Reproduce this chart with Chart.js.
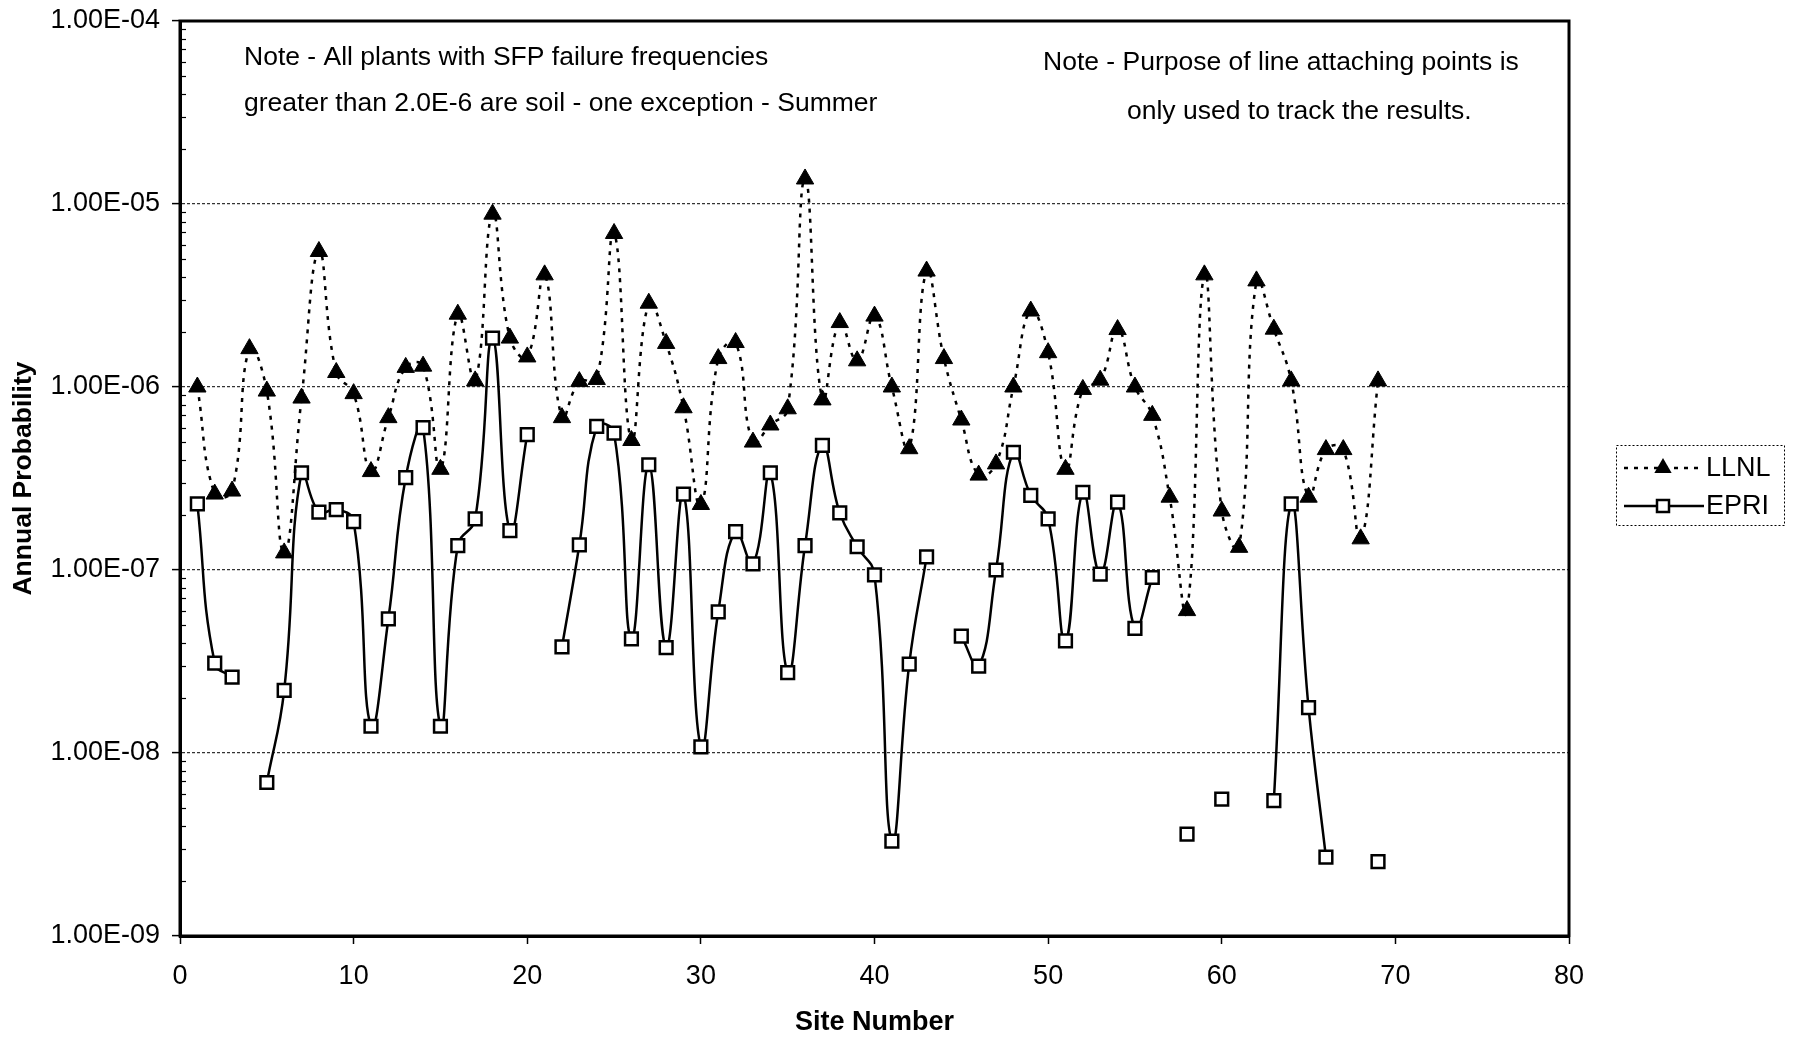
<!DOCTYPE html>
<html>
<head>
<meta charset="utf-8">
<script src="https://cdn.jsdelivr.net/npm/chart.js@4/dist/chart.umd.min.js"></script>
<style>
  html, body { margin: 0; padding: 0; background: #fff; }
  canvas { display: block; }
</style>
</head>
<body>
<canvas id="c" width="1797" height="1040"></canvas>
<script>
// ---------------- DATA ----------------
const sites = [1,2,3,4,5,6,7,8,9,10,11,12,13,14,15,16,17,18,19,20,
  21,22,23,24,25,26,27,28,29,30,31,32,33,34,35,36,37,38,39,40,
  41,42,43,44,45,46,47,48,49,50,51,52,53,54,55,56,57,58,59,60,
  61,62,63,64,65,66,67,68,69];

const llnl = [1.0e-6, 2.6e-7, 2.7e-7, 1.62e-6, 9.5e-7, 1.24e-7, 8.7e-7, 5.5e-6, 1.2e-6, 9.2e-7,
  3.45e-7, 6.8e-7, 1.28e-6, 1.3e-6, 3.55e-7, 2.5e-6, 1.08e-6, 8.8e-6, 1.85e-6, 1.46e-6,
  4.1e-6, 6.8e-7, 1.07e-6, 1.1e-6, 6.9e-6, 5.1e-7, 2.87e-6, 1.73e-6, 7.7e-7, 2.28e-7,
  1.43e-6, 1.75e-6, 5.0e-7, 6.2e-7, 7.6e-7, 1.37e-5, 8.5e-7, 2.25e-6, 1.39e-6, 2.44e-6,
  1.0e-6, 4.6e-7, 4.3e-6, 1.43e-6, 6.6e-7, 3.3e-7, 3.8e-7, 1.0e-6, 2.6e-6, 1.54e-6,
  3.55e-7, 9.7e-7, 1.09e-6, 2.06e-6, 1.0e-6, 7.0e-7, 2.5e-7, 6.0e-8, 4.1e-6, 2.1e-7,
  1.33e-7, 3.8e-6, 2.07e-6, 1.08e-6, 2.5e-7, 4.55e-7, 4.55e-7, 1.48e-7, 1.08e-6];

const epri = [2.3e-7, 3.1e-8, 2.6e-8, null, 6.9e-9, 2.2e-8, 3.4e-7, 2.07e-7, 2.14e-7, 1.84e-7,
  1.4e-8, 5.4e-8, 3.2e-7, 6.0e-7, 1.4e-8, 1.36e-7, 1.9e-7, 1.85e-6, 1.64e-7, 5.5e-7,
  null, 3.8e-8, 1.37e-7, 6.1e-7, 5.6e-7, 4.2e-8, 3.76e-7, 3.77e-8, 2.6e-7, 1.08e-8,
  5.9e-8, 1.62e-7, 1.08e-7, 3.4e-7, 2.75e-8, 1.36e-7, 4.8e-7, 2.05e-7, 1.34e-7, 9.4e-8,
  3.3e-9, 3.06e-8, 1.18e-7, null, 4.35e-8, 2.98e-8, 1.0e-7, 4.4e-7, 2.56e-7, 1.9e-7,
  4.1e-8, 2.66e-7, 9.5e-8, 2.35e-7, 4.8e-8, 9.1e-8, null, 3.6e-9, null, 5.6e-9,
  null, null, 5.5e-9, 2.3e-7, 1.77e-8, 2.7e-9, null, null, 2.55e-9];

const seriesNames = ['LLNL', 'EPRI'];
const xTicks = [0, 10, 20, 30, 40, 50, 60, 70, 80];
const yTickValues = [1e-9, 1e-8, 1e-7, 1e-6, 1e-5, 1e-4];
const yTickLabels = ['1.00E-09', '1.00E-08', '1.00E-07', '1.00E-06', '1.00E-05', '1.00E-04'];
const notesLeft = ['Note - All plants with SFP failure frequencies',
                   'greater than 2.0E-6 are soil - one exception - Summer'];
const notesRight = ['Note - Purpose of line attaching points is',
                    'only used to track the results.'];
const xTitle = 'Site Number';
const yTitle = 'Annual Probability';

// ---------------- STYLE ----------------
const FONT = "'Liberation Sans', Arial, Helvetica, sans-serif";
Chart.defaults.font.family = FONT;
Chart.defaults.font.size = 27;
Chart.defaults.color = '#000';

function isMajor(v) {
  const l = Math.log10(v);
  return Math.abs(l - Math.round(l)) < 1e-6;
}
function labelFor(v) {
  for (let i = 0; i < yTickValues.length; i++) {
    if (Math.abs(Math.log10(v) - Math.log10(yTickValues[i])) < 1e-6) return yTickLabels[i];
  }
  return '';
}

const whiteBg = {
  id: 'whiteBg',
  beforeDraw(chart) {
    const c = chart.ctx;
    c.save();
    c.fillStyle = '#fff';
    c.fillRect(0, 0, chart.width, chart.height);
    c.restore();
  }
};

const frame = {
  id: 'frame',
  afterDatasetsDraw(chart) {
    const {ctx, chartArea: a, scales} = chart;
    ctx.save();
    ctx.strokeStyle = '#000';
    ctx.lineWidth = 1.2;
    const ys = scales.y;
    for (let i = 0; i < yTickValues.length - 1; i++) {
      for (let k = 2; k <= 9; k++) {
        const v = yTickValues[i] * k;
        const py = Math.round(ys.getPixelForValue(v)) + 0.5;
        ctx.beginPath();
        ctx.moveTo(a.left, py);
        ctx.lineTo(a.left + 6, py);
        ctx.stroke();
      }
    }
    ctx.lineWidth = 3;
    ctx.strokeRect(a.left, a.top, a.right - a.left, a.bottom - a.top);
    ctx.restore();
  }
};

function drawTriangle(ctx, x, y, r) {
  ctx.beginPath();
  ctx.moveTo(x, y - r);
  ctx.lineTo(x + r * 0.866, y + r * 0.5);
  ctx.lineTo(x - r * 0.866, y + r * 0.5);
  ctx.closePath();
  ctx.fill();
}

const legendBox = {
  id: 'legendBox',
  afterDraw(chart) {
    const {ctx, chartArea: a} = chart;
    const left = a.right + 47, top = a.top + 424, w = 168, h = 80;
    ctx.save();
    ctx.strokeStyle = '#000';
    ctx.lineWidth = 1;
    ctx.setLineDash([2, 2]);
    ctx.strokeRect(left + 0.5, top + 0.5, w, h);
    const y1 = top + 23, y2 = top + 61;
    ctx.setLineDash([4, 6]);
    ctx.lineWidth = 2.5;
    ctx.beginPath();
    ctx.moveTo(left + 8, y1);
    ctx.lineTo(left + 88, y1);
    ctx.stroke();
    ctx.setLineDash([]);
    ctx.fillStyle = '#000';
    drawTriangle(ctx, left + 47, y1, 10);
    ctx.lineWidth = 2.5;
    ctx.beginPath();
    ctx.moveTo(left + 8, y2);
    ctx.lineTo(left + 88, y2);
    ctx.stroke();
    ctx.fillStyle = '#fff';
    ctx.fillRect(left + 41, y2 - 6, 12, 12);
    ctx.strokeRect(left + 41, y2 - 6, 12, 12);
    ctx.fillStyle = '#000';
    ctx.font = '27px ' + FONT;
    ctx.textAlign = 'left';
    ctx.textBaseline = 'middle';
    ctx.fillText(seriesNames[0], left + 90, y1 + 1);
    ctx.fillText(seriesNames[1], left + 90, y2 + 1);
    ctx.restore();
  }
};

const notes = {
  id: 'notes',
  afterDraw(chart) {
    const {ctx, chartArea: a} = chart;
    ctx.save();
    ctx.fillStyle = '#000';
    ctx.font = '26.5px ' + FONT;
    ctx.textAlign = 'left';
    ctx.textBaseline = 'middle';
    ctx.fillText(notesLeft[0], a.left + 64, a.top + 37);
    ctx.fillText(notesLeft[1], a.left + 64, a.top + 83);
    ctx.fillText(notesRight[0], a.left + 863, a.top + 42);
    ctx.fillText(notesRight[1], a.left + 947, a.top + 91);
    ctx.restore();
  }
};

const ctx = document.getElementById('c').getContext('2d');
new Chart(ctx, {
  type: 'line',
  data: {
    datasets: [
      {
        label: seriesNames[0],
        data: sites.map((s, i) => ({x: s, y: llnl[i]})),
        borderColor: '#000',
        borderWidth: 2.5,
        borderDash: [4, 6],
        tension: 0.45,
        pointStyle: 'triangle',
        pointRadius: 10,
        pointBackgroundColor: '#000',
        pointBorderColor: '#000',
        pointBorderWidth: 1,
        fill: false
      },
      {
        label: seriesNames[1],
        data: sites.map((s, i) => ({x: s, y: epri[i]})),
        borderColor: '#000',
        borderWidth: 2.5,
        tension: 0.45,
        spanGaps: false,
        pointStyle: 'rect',
        pointRadius: 9,
        pointBackgroundColor: '#fff',
        pointBorderColor: '#000',
        pointBorderWidth: 2.5,
        fill: false
      }
    ]
  },
  options: {
    responsive: false,
    animation: false,
    devicePixelRatio: 1,
    layout: { padding: { top: 21, right: 228, bottom: 0, left: 0 } },
    plugins: { legend: { display: false }, tooltip: { enabled: false } },
    scales: {
      x: {
        type: 'linear',
        min: 0, max: 80,
        afterBuildTicks(s) { s.ticks = xTicks.map(v => ({value: v})); },
        ticks: { padding: 16, font: { size: 27 }, color: '#000', maxRotation: 0, autoSkip: false },
        grid: { drawOnChartArea: false, drawTicks: true, tickLength: 8, tickColor: '#000', tickWidth: 1.5 },
        border: { display: true, color: '#000', width: 3 },
        title: { display: true, text: xTitle, font: { size: 27, weight: 'bold' }, color: '#000', padding: { top: 0, bottom: 1 } },
        afterFit(s) { s.height = 104; }
      },
      y: {
        type: 'logarithmic',
        min: 1e-9, max: 1e-4,
        afterBuildTicks(s) {
          s.ticks = yTickValues.map(v => ({value: v}));
        },
        ticks: {
          autoSkip: false, padding: 12, font: { size: 27 }, color: '#000',
          callback: (v) => labelFor(v)
        },
        grid: {
          color: (c) => (c.tick && isMajor(c.tick.value)) ? 'rgba(0,0,0,0.8)' : 'rgba(0,0,0,0)',
          lineWidth: 1.2,
          tickColor: '#000', tickLength: 8, tickWidth: 1.5
        },
        border: { display: true, color: '#000', width: 3, dash: [3, 2] },
        title: { display: true, text: yTitle, font: { size: 26.5, weight: 'bold' }, color: '#000', padding: { top: 8, bottom: 0 } },
        afterFit(s) { s.width = 180; s.paddingTop = 0; s.paddingBottom = 0; }
      }
    }
  },
  plugins: [whiteBg, frame, legendBox, notes]
});
</script>
</body>
</html>
